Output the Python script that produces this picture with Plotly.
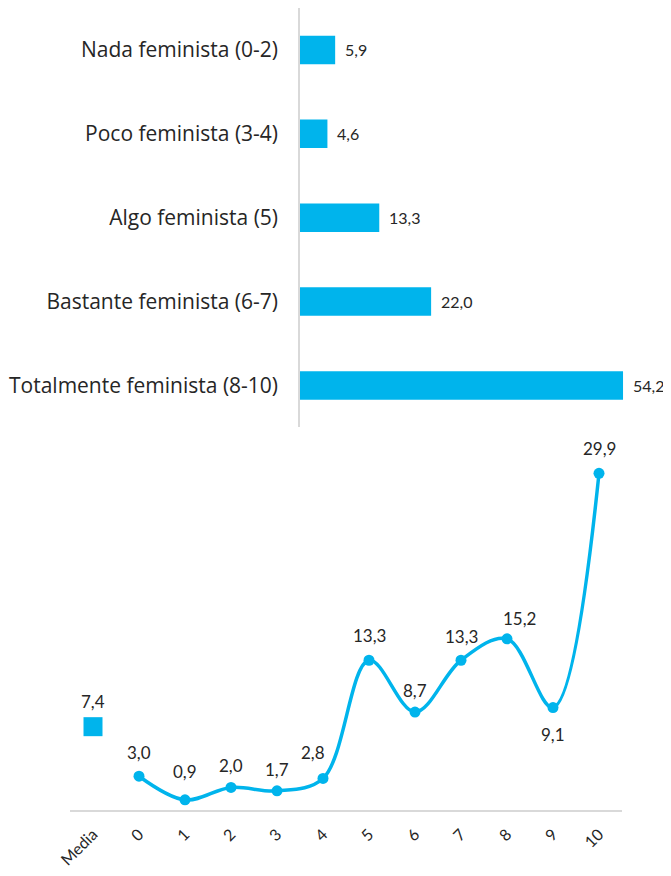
import plotly.graph_objects as go

# Top chart data
bar_categories = ["Nada feminista (0-2)", "Poco feminista (3-4)", "Algo feminista (5)",
                  "Bastante feminista (6-7)", "Totalmente feminista (8-10)"]
bar_values = [5.9, 4.6, 13.3, 22.0, 54.2]

# Bottom chart data
media_label = ["Media"]
media_value = [7.4]
scale_categories = ["0", "1", "2", "3", "4", "5", "6", "7", "8", "9", "10"]
scale_values = [3.0, 0.9, 2.0, 1.7, 2.8, 13.3, 8.7, 13.3, 15.2, 9.1, 29.9]

BLUE = "#00b4ec"
TXT = "#262626"
PAD = 8                      # default page body margin
FW, FH = 671 - 2 * PAD, 876 - 2 * PAD

def px_x(x):
    return (x - PAD) / FW

def px_y(y):
    return min(1, (FH - (y - PAD)) / FH)

def fmt(v):
    return f"{v:.1f}".replace(".", ",")

all_cats = media_label + scale_categories

fig = go.Figure()

fig.add_trace(go.Bar(
    y=bar_categories, x=bar_values, orientation="h",
    marker=dict(color=BLUE, line=dict(width=0)), width=0.34,
    xaxis="x", yaxis="y", hoverinfo="skip",
))

fig.add_trace(go.Scatter(
    x=scale_categories, y=scale_values, mode="lines+markers",
    line=dict(color=BLUE, width=3.5, shape="spline", smoothing=1.0),
    marker=dict(color=BLUE, size=11, symbol="circle"),
    xaxis="x2", yaxis="y2", hoverinfo="skip",
))
fig.add_trace(go.Scatter(
    x=media_label, y=media_value, mode="markers",
    marker=dict(color=BLUE, size=19, symbol="square"),
    xaxis="x2", yaxis="y2", hoverinfo="skip",
))

annotations = []
for c, v in zip(bar_categories, bar_values):
    annotations.append(dict(x=v, y=bar_categories.index(c), xref="x", yref="y", text=fmt(v),
                            showarrow=False, xanchor="left", xshift=8,
                            font=dict(family="Lato", size=16, color=TXT)))

label_shift = [(0, 24), (0, 28), (0, 22), (0, 21), (-10, 26), (0, 25), (0, 22), (0, 24), (12, 20), (0, -27), (0, 25)]
for c, v, (dx, dy) in zip(scale_categories, scale_values, label_shift):
    annotations.append(dict(x=all_cats.index(c), y=v, xref="x2", yref="y2", text=fmt(v),
                            showarrow=False, xshift=dx, yshift=dy,
                            font=dict(family="Lato", size=17, color=TXT)))
for c, v in zip(media_label, media_value):
    annotations.append(dict(x=all_cats.index(c), y=v, xref="x2", yref="y2", text=fmt(v),
                            showarrow=False, yshift=25,
                            font=dict(family="Lato", size=17, color=TXT)))

fig.update_layout(
    width=FW, height=FH, margin=dict(l=0, r=0, t=0, b=0, autoexpand=False),
    paper_bgcolor="white", plot_bgcolor="white", showlegend=False,
    annotations=annotations,
    xaxis=dict(domain=[px_x(300), px_x(657.6)], range=[0, 60], visible=False, fixedrange=True,
               automargin=False),
    yaxis=dict(domain=[px_y(427.4), px_y(3.6)], anchor="x", automargin=False,
               categoryorder="array", categoryarray=bar_categories, autorange="reversed",
               showline=True, linecolor="#d9d9d9", linewidth=1.5, showgrid=False,
               ticks="", ticklabelstandoff=16,
               tickfont=dict(family="Open Sans", size=21, color=TXT)),
    xaxis2=dict(domain=[px_x(70), px_x(622)], anchor="y2", type="category", automargin=False,
                categoryorder="array", categoryarray=all_cats,
                range=[-0.5, 11.5], showline=True, linecolor="#d9d9d9", linewidth=1.5,
                showgrid=False, ticks="", tickangle=-45, ticklabelstandoff=7,
                tickfont=dict(family="Lato", size=16, color=TXT)),
    yaxis2=dict(domain=[px_y(810), px_y(472.2)], anchor="x2", range=[0, 30],
                visible=False, showgrid=False, automargin=False),
)
fig.update_traces(cliponaxis=False)

fig.write_html("out.html")
